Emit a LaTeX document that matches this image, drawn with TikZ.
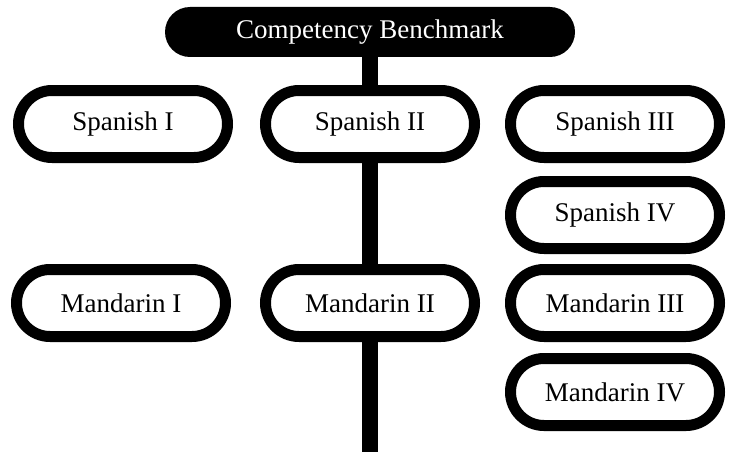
\documentclass[tikz,border=0pt]{standalone}
\usepackage{tikz}
\usepackage{fontspec}
\setmainfont{Liberation Serif}
\begin{document}
\begin{tikzpicture}[x=1pt,y=-1pt,
	course/.style={draw=black, line width=11pt, fill=white, rounded corners=33.5pt,
		minimum width=209pt, minimum height=67pt, inner sep=0pt,
		font=\fontsize{27}{31}\selectfont},
	bench/.style={fill=black, text=white, rounded corners=25pt,
		minimum width=410pt, minimum height=50pt, inner sep=0pt,
		font=\fontsize{27}{31}\selectfont}]
	\useasboundingbox (0,0) rectangle (730,452);
	\node [bench] (bench) at(370,32) {Competency Benchmark};
	\coordinate (foot) at(370,452);
	\draw [line width=16pt] (bench) -- (foot);
	% Spanish
	\node [course] (span1) at(123,124) {Spanish I};
	\node [course] (span2) at(370,124) {Spanish II};
	\node [course] (span3) at(615,124) {Spanish III};
	\node [course] (span4) at(615,215) {Spanish IV};
	% Mandarin
	\node [course] (mand1) at(121,303) {Mandarin I};
	\node [course] (mand2) at(370,303) {Mandarin II};
	\node [course] (mand3) at(615,303) {Mandarin III};
	\node [course] (mand4) at(615,392) {Mandarin IV};
\end{tikzpicture}
\end{document}
